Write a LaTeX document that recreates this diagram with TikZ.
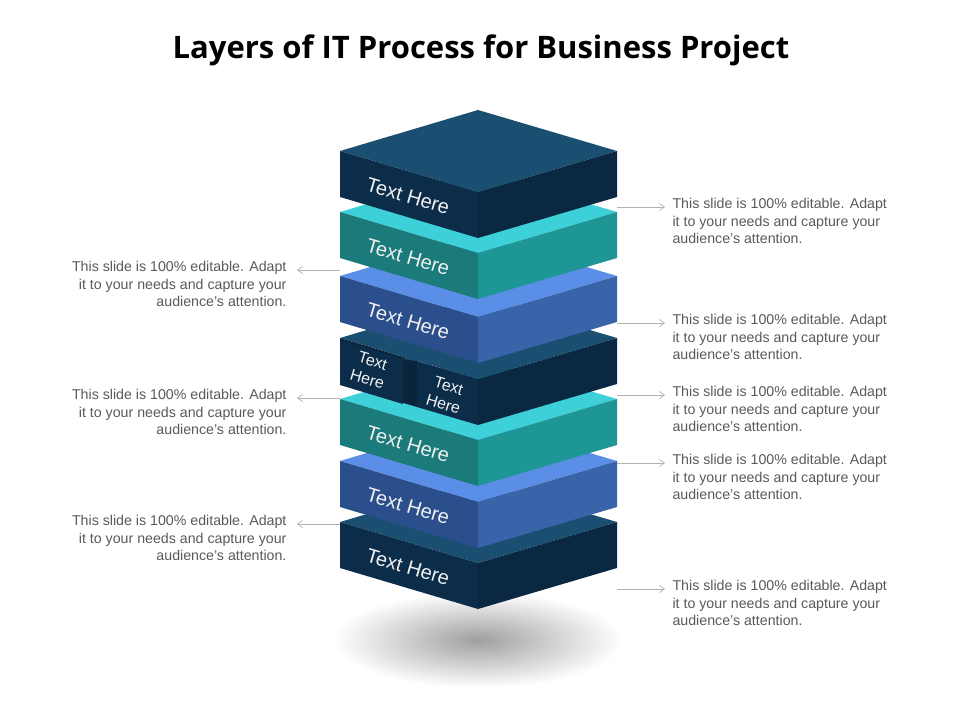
\documentclass[tikz,border=0pt]{standalone}
\usepackage{fontspec}
\setmainfont{Liberation Sans}
\newfontfamily\titlefont{Open Sans}
\usetikzlibrary{arrows.meta}

\definecolor{navytop}{RGB}{27,79,114}
\definecolor{navyleft}{RGB}{12,45,74}
\definecolor{navyright}{RGB}{10,40,66}
\definecolor{tealtop}{RGB}{61,208,216}
\definecolor{tealleft}{RGB}{26,123,122}
\definecolor{tealright}{RGB}{31,150,150}
\definecolor{bluetop}{RGB}{91,142,230}
\definecolor{blueleft}{RGB}{43,79,140}
\definecolor{blueright}{RGB}{58,100,170}
\definecolor{notegray}{RGB}{89,89,89}

\tikzset{
  facelabel/.style={text=white!88!gray, font=\fontsize{20}{22}\selectfont, rotate=-16.5},
  smalllabel/.style={text=white!88!gray, font=\fontsize{16}{19}\selectfont, rotate=-16.5, align=center},
  note/.style={text=notegray, font=\fontsize{14.2}{17.5}\selectfont},
  pointer/.style={gray!60, line width=0.7pt, -{Straight Barb[length=5pt,width=7pt]}}
}

% one slab of the stack, front corner at (478,#1)
\newcommand\slab[5]{%
  \fill[#2] (478,#1) -- (340,{#1-41}) -- (478,{#1-82}) -- (617,{#1-41}) -- cycle;
  \fill[#3] (340,{#1-41}) -- (478,#1) -- (478,{#1+46}) -- (340,{#1+5}) -- cycle;
  \fill[#4] (478,#1) -- (617,{#1-41}) -- (617,{#1+5}) -- (478,{#1+46}) -- cycle;
  \node[facelabel] (#5) at (408,{#1+4}) {Text Here};
}

\begin{document}
\begin{tikzpicture}[x=1pt, y=-1pt]
  \useasboundingbox (0,0) rectangle (960,720);
  \node[font=\titlefont\bfseries\fontsize{31}{34}\selectfont] (title) at (481,50)
    {Layers of IT Process for Business Project};

  % shadow
  \shade[inner color=gray!75, outer color=white] (478,640) ellipse (145 and 48);

  % slabs, bottom to top
  \slab{563}{navytop}{navyleft}{navyright}{s7}
  \slab{502}{bluetop}{blueleft}{blueright}{s6}
  \slab{440}{tealtop}{tealleft}{tealright}{s5}
  % split slab
  \fill[navytop] (478,379) -- (340,338) -- (478,297) -- (617,338) -- cycle;
  \fill[navyleft!80!black] (340,338) -- (417,361) -- (417,407) -- (340,384) -- cycle;
  \fill[navyleft] (340,340) -- (403,359) -- (403,404) -- (340,385) -- cycle;
  \fill[navytop] (403,359) -- (425,352) -- (440,356) -- (417,361) -- cycle;
  \fill[navyleft] (417,361) -- (478,379) -- (478,425) -- (417,407) -- cycle;
  \fill[navyright] (478,379) -- (617,338) -- (617,384) -- (478,425) -- cycle;
  \node[smalllabel] (s4a) at (370,370) {Text\\Here};
  \node[smalllabel] (s4b) at (446,395) {Text\\Here};
  \slab{317}{bluetop}{blueleft}{blueright}{s3}
  \slab{253}{tealtop}{tealleft}{tealright}{s2}
  \slab{192}{navytop}{navyleft}{navyright}{s1}

  % notes on the right
  \foreach \name/\ytop in {r1/195, r2/311, r3/383, r4/451, r5/577} {
    \node[note, anchor=north west, align=left] (\name) at (669,\ytop)
      {This slide is 100\% editable. Adapt\\it to your needs and capture your\\audience's attention.};
    \coordinate (\name s) at (617,{\ytop+12});
    \draw[pointer] (\name s) -- ([xshift=-4pt]\name.west |- \name s);
  }
  % notes on the left
  \foreach \name/\ytop in {l1/258, l2/386, l3/512} {
    \node[note, anchor=north east, align=right] (\name) at (290,\ytop)
      {This slide is 100\% editable. Adapt\\it to your needs and capture your\\audience's attention.};
    \coordinate (\name s) at (340,{\ytop+12});
    \draw[pointer] (\name s) -- ([xshift=7pt]\name.east |- \name s);
  }
\end{tikzpicture}
\end{document}
